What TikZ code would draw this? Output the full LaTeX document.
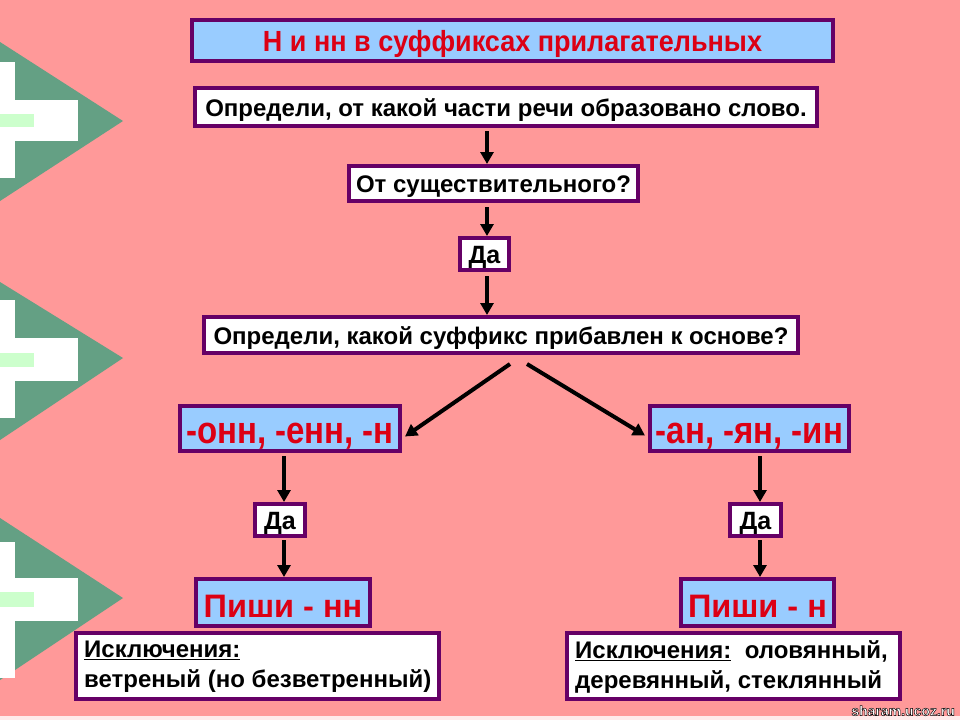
\documentclass[tikz,border=0pt]{standalone}
\usepackage{fontspec}
\setmainfont{Liberation Sans}
\usetikzlibrary{arrows.meta,calc}
\definecolor{bgpink}{RGB}{255,153,153}
\definecolor{pur}{RGB}{102,0,102}
\definecolor{lblue}{RGB}{153,204,255}
\definecolor{tred}{RGB}{220,0,20}
\definecolor{tgreen}{RGB}{100,160,132}
\definecolor{lgreen}{RGB}{204,255,204}
\newcommand{\tallx}[1]{\scalebox{1}[1.15]{#1}}
\tikzset{
  box/.style={draw=pur, line width=4pt, fill=white, inner sep=0pt, text=black, text height=18pt, text depth=0pt, font=\bfseries\fontsize{24}{28}\selectfont},
  bluebox/.style={box, fill=lblue, text=tred},
  exbox/.style={draw=pur, line width=4pt, fill=white, inner sep=0pt},
  extext/.style={inner sep=0pt, align=left, text=black, font=\bfseries\fontsize{24}{30}\selectfont},
  arr/.style={line width=4pt, -{Triangle[length=12pt,width=13pt]}},
  wm/.style={font=\bfseries\fontsize{14}{16}\selectfont, inner sep=0pt}
}
\begin{document}
\begin{tikzpicture}[x=1pt,y=-1pt]
\useasboundingbox (0,0) rectangle (960,720);
\fill[bgpink] (0,0) rectangle (960,720);
\fill[white!80!bgpink] (0,716) rectangle (960,720);
% left decorations
\foreach \t/\tip/\b/\vt/\vb/\ht/\hb/\gt/\gb in {42/121/201/62/178/100/141/114/127, 282/358/440/300/418/338/381/353/367, 518/598/680/542/678/578/621/592/607}{
  \fill[tgreen] (0,\t) -- (123,\tip) -- (0,\b) -- cycle;
  \fill[white] (0,\vt) rectangle (15,\vb);
  \fill[white] (0,\ht) rectangle (78,\hb);
  \fill[lgreen] (0,\gt) rectangle (34,\gb);
}
% nodes
\node[bluebox, minimum width=641pt, minimum height=41pt, text height=21pt, font=\bfseries\fontsize{27}{30}\selectfont] (title) at (512.5,40.5) {\scalebox{1}[1.08]{Н и нн в суффиксах прилагательных}};
\node[box, minimum width=622pt, minimum height=38pt] (q1) at (506,107) {Определи, от какой части речи образовано слово.};
\node[box, minimum width=289pt, minimum height=35pt] (q2) at (493.5,183.5) {От существительного?};
\node[box, minimum width=49pt, minimum height=32pt, font=\bfseries\fontsize{25}{28}\selectfont] (da1) at (484.5,254) {Да};
\node[box, minimum width=594pt, minimum height=36pt] (q3) at (501,335) {Определи, какой суффикс прибавлен к основе?};
\node[bluebox, minimum width=220pt, minimum height=45pt, text height=29pt, font=\bfseries\fontsize{33}{36}\selectfont] (s1) at (290,428.5) {\tallx{-онн, -енн, -н}};
\node[bluebox, minimum width=199pt, minimum height=45pt, text height=29pt, font=\bfseries\fontsize{33}{36}\selectfont] (s2) at (749.5,428.5) {\tallx{-ан, -ян, -ин}};
\node[box, minimum width=50pt, minimum height=32pt, font=\bfseries\fontsize{25}{28}\selectfont] (da2) at (280,520) {Да};
\node[box, minimum width=51pt, minimum height=32pt, font=\bfseries\fontsize{25}{28}\selectfont] (da3) at (755.5,520) {Да};
\node[bluebox, minimum width=174pt, minimum height=47pt, text height=29pt, font=\bfseries\fontsize{32.5}{36}\selectfont] (p1) at (283,602.5) {Пиши - нн};
\node[bluebox, minimum width=153pt, minimum height=47pt, text height=29pt, font=\bfseries\fontsize{32.5}{36}\selectfont] (p2) at (757.5,602.5) {Пиши - н};
\node[exbox, minimum width=363pt, minimum height=66pt] (e1) at (257.5,666) {};
\node[extext, anchor=west] (e1t) at ($(e1.west)+(10,1)$) {\underline{Исключения:}\\ветреный (но безветренный)};
\node[exbox, minimum width=333pt, minimum height=66pt] (e2) at (733.5,666) {};
\node[extext, anchor=west] (e2t) at ($(e2.west)+(10,1)$) {\underline{Исключения:}\ \ оловянный,\\деревянный, стеклянный};
% watermark
\node[wm, text=white, anchor=south east] (wmark) at (955,716) {\special{pdf:literal direct 2 Tr 0.45 w 0 0 0 RG}sharam.ucoz.ru\special{pdf:literal direct 0 Tr}};
% arrows
\coordinate (cx) at (487,0);
\draw[arr] (q1.south -| cx) ++(0,3) -- (q2.north -| cx);
\draw[arr] (q2.south -| cx) ++(0,4) -- (da1.north -| cx);
\draw[arr] (da1.south -| cx) ++(0,4) -- (q3.north -| cx);
\draw[arr] ($(q3.south)+(9,9)$) -- ($(s1.east)+(3,8)$);
\draw[arr] ($(q3.south)+(26,9)$) -- ($(s2.west)+(-3,7)$);
\coordinate (lx) at (284,0);
\coordinate (rx) at (760,0);
\draw[arr] (s1.south -| lx) ++(0,3) -- (da2.north -| lx);
\draw[arr] (da2.south -| lx) ++(0,2) -- (p1.north -| lx);
\draw[arr] (s2.south -| rx) ++(0,3) -- (da3.north -| rx);
\draw[arr] (da3.south -| rx) ++(0,2) -- (p2.north -| rx);
\end{tikzpicture}
\end{document}
